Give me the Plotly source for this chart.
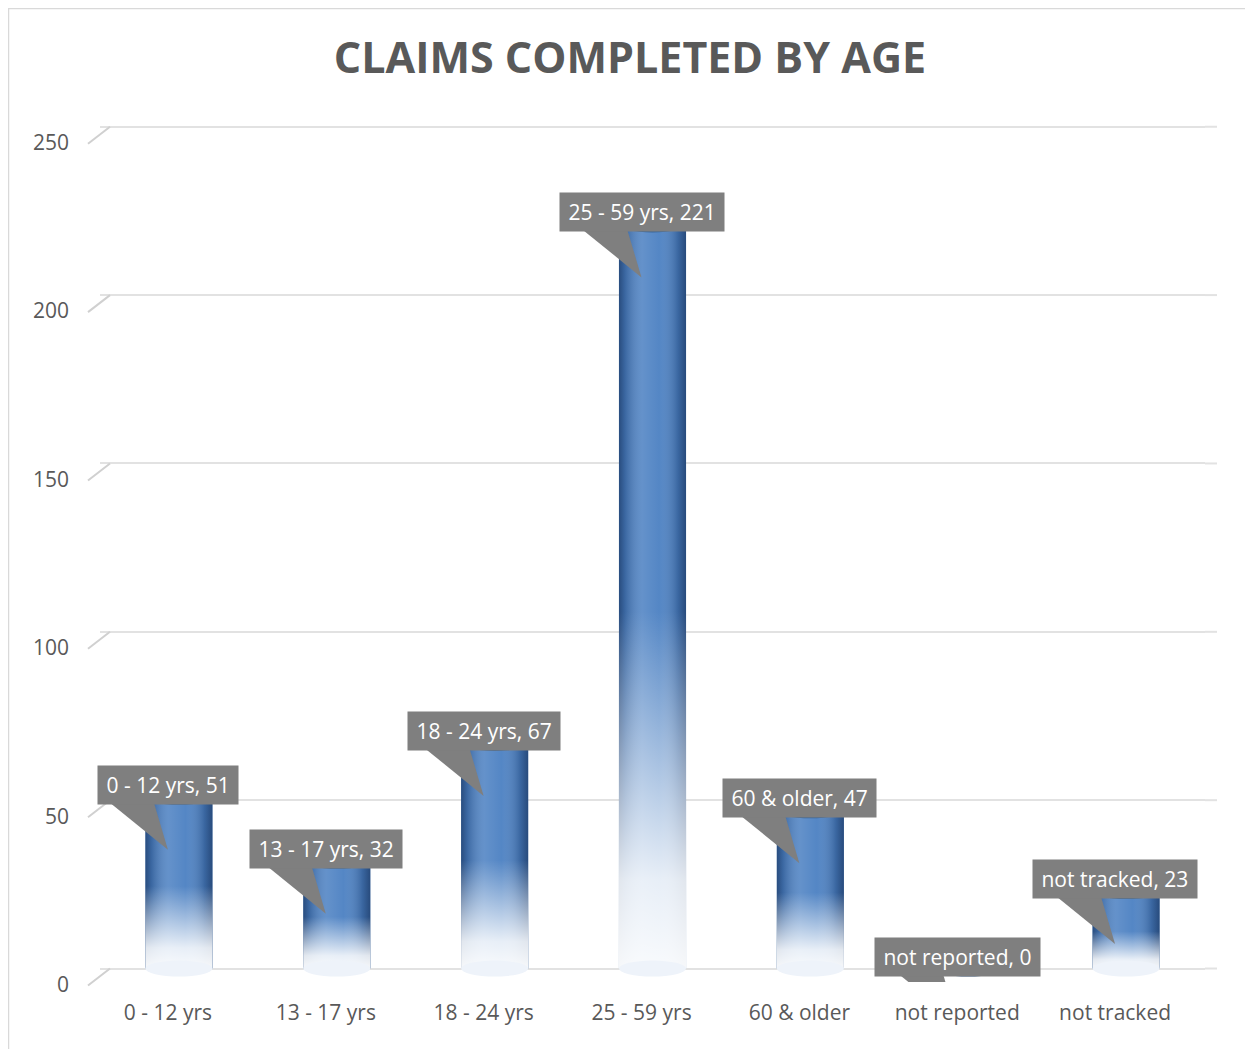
import plotly.graph_objects as go

# ---------------- data ----------------
categories = ["0 - 12 yrs", "13 - 17 yrs", "18 - 24 yrs", "25 - 59 yrs",
              "60 & older", "not reported", "not tracked"]
claims = [51, 32, 67, 221, 47, 0, 23]
y_ticks = [0, 50, 100, 150, 200, 250]
title_text = "CLAIMS COMPLETED BY AGE"

# ---------------- layout constants ----------------
# the page body has an 8px margin, so the figure is drawn 8px smaller
W, H = 1245, 1041
ML, MR, MT, MB = 92, 48, 112, 66.5
Y_RANGE = [-4, 252]
BAR_W = 0.425
FONT = "Open Sans, Carlito, Calibri, sans-serif"
TEXT_GRAY = "#595959"
GRID = "#E2E2E2"
BAR_BLUE = "#4B80C2"
CAP_BLUE = "#3A6699"
LABEL_BG = "#7F7F7F"
PAD = "\u2009"

PLOT_W = W - ML - MR
PLOT_H = H - MT - MB

xs = list(range(len(categories)))

shade_scale = [
    [0.0, "rgba(20,45,85,0.62)"],
    [0.09, "rgba(20,45,85,0.30)"],
    [0.35, "rgba(255,255,255,0.14)"],
    [0.60, "rgba(255,255,255,0.05)"],
    [0.88, "rgba(20,45,85,0.30)"],
    [1.0, "rgba(20,45,85,0.64)"],
]
fade_scale = [
    [0.0, "rgba(255,255,255,0.96)"],
    [0.12, "rgba(255,255,255,0.86)"],
    [0.48, "rgba(255,255,255,0.0)"],
    [1.0, "rgba(255,255,255,0.0)"],
]

fig = go.Figure()
fig.add_trace(go.Bar(
    x=xs, y=claims, width=BAR_W,
    marker=dict(color=BAR_BLUE, line=dict(width=0)),
    hovertext=categories, hoverinfo="text+y", showlegend=False,
))

for i, v in zip(xs, claims):
    if v <= 0:
        continue
    px = [i - BAR_W / 2, i + BAR_W / 2, i + BAR_W / 2, i - BAR_W / 2, i - BAR_W / 2]
    py = [0, 0, v, v, 0]
    fig.add_trace(go.Scatter(
        x=px, y=py, mode="lines", line=dict(width=0), fill="toself",
        fillgradient=dict(type="horizontal", colorscale=shade_scale),
        hoverinfo="skip", showlegend=False,
    ))
    fig.add_trace(go.Scatter(
        x=px, y=py, mode="lines", line=dict(width=0), fill="toself",
        fillgradient=dict(type="vertical", colorscale=fade_scale),
        hoverinfo="skip", showlegend=False,
    ))

shapes = []
# gridline extensions past the right edge of the plot (3D back wall)
for t in y_ticks:
    frac = (t - Y_RANGE[0]) / (Y_RANGE[1] - Y_RANGE[0])
    shapes.append(dict(
        type="line", xref="paper", yref="paper",
        xsizemode="pixel", xanchor=1, x0=0, x1=12,
        ysizemode="pixel", yanchor=frac, y0=0, y1=0,
        line=dict(color=GRID, width=2),
    ))
# bottom ellipses and top caps
for i, v in zip(xs, claims):
    shapes.append(dict(
        type="circle", xref="x", yref="y", x0=i - BAR_W / 2, x1=i + BAR_W / 2,
        ysizemode="pixel", yanchor=0, y0=-8, y1=8,
        fillcolor="#EEF3FA", line=dict(width=0), layer="above",
    ))
    shapes.append(dict(
        type="circle", xref="x", yref="y", x0=i - BAR_W / 2, x1=i + BAR_W / 2,
        ysizemode="pixel", yanchor=v, y0=-8, y1=8,
        fillcolor=CAP_BLUE, line=dict(width=0), layer="above",
    ))
# callout wedges
for i, v in zip(xs, claims):
    shapes.append(dict(
        type="path", xref="x", yref="y",
        xsizemode="pixel", xanchor=i, ysizemode="pixel", yanchor=v,
        path="M -69,-6 L -25,-6 L -11,-53 Z",
        fillcolor=LABEL_BG, line=dict(width=0), layer="above",
    ))
# slanted 3D tick segments on the left wall
for t in y_ticks:
    frac = (t - Y_RANGE[0]) / (Y_RANGE[1] - Y_RANGE[0])
    shapes.append(dict(
        type="line", xref="paper", yref="paper",
        xsizemode="pixel", xanchor=0, x0=-12, x1=10,
        ysizemode="pixel", yanchor=frac, y0=-17, y1=0,
        line=dict(color="#D0D0D0", width=2),
    ))
# chart border
shapes.append(dict(
    type="rect", xref="paper", yref="paper",
    x0=(0.5 - ML) / PLOT_W, x1=(1238 - ML) / PLOT_W,
    y0=(H - MB - 1045) / PLOT_H, y1=(H - MB - 0.5) / PLOT_H,
    line=dict(color="#D9D9D9", width=1.5), fillcolor="rgba(0,0,0,0)", layer="below",
))

annotations = []
for i, (c, v) in enumerate(zip(categories, claims)):
    annotations.append(dict(
        x=i, y=v, xref="x", yref="y", text=f"{PAD}{c}, {v}{PAD}", showarrow=False,
        xanchor="center", yanchor="bottom", xshift=-11, yshift=-8,
        bgcolor=LABEL_BG, borderpad=5,
        font=dict(family=FONT, size=21, color="white"),
    ))

fig.update_layout(
    width=W, height=H,
    margin=dict(l=ML, r=MR, t=MT, b=MB),
    paper_bgcolor="white", plot_bgcolor="white",
    title=dict(
        text=title_text, x=(630 - 8) / W, xref="container", xanchor="center",
        y=1 - 50 / H, yref="container", yanchor="middle",
        font=dict(family=FONT, size=43, color=TEXT_GRAY, weight="bold"),
    ),
    xaxis=dict(
        range=[-0.5, len(categories) - 0.5], tickmode="array",
        tickvals=xs, ticktext=categories, showgrid=False, zeroline=False,
        showline=False, ticks="", ticklabelshift=-11, ticklabelstandoff=16,
        tickfont=dict(family=FONT, size=21, color=TEXT_GRAY),
    ),
    yaxis=dict(
        range=Y_RANGE, tickmode="array", tickvals=y_ticks, showgrid=True,
        gridcolor=GRID, gridwidth=2, zeroline=False, showline=False,
        ticks="", ticklabelstandoff=30, ticklabelshift=16,
        tickfont=dict(family=FONT, size=21, color=TEXT_GRAY),
    ),
    shapes=shapes, annotations=annotations, showlegend=False,
    bargap=0.5,
)

fig.write_html("out.html")
